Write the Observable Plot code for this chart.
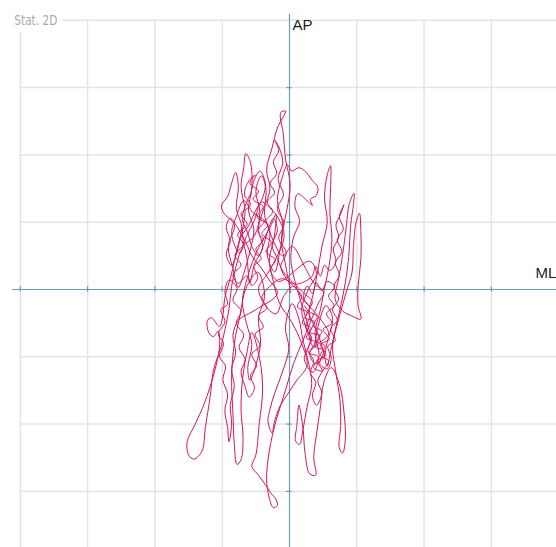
<!DOCTYPE html>
<html>
<head>
<meta charset="utf-8">
<script src="https://cdn.jsdelivr.net/npm/d3@7"></script>
<script src="https://cdn.jsdelivr.net/npm/@observablehq/plot@0.6"></script>
<style>
  html, body { margin: 0; padding: 0; background: #fff; }
  svg { display: block; }
</style>
</head>
<body>
<div id="chart"></div>
<script>
// Grid / tick values (mm)
const gridX = [-40, -30, -20, -10, 10, 20, 30];
const gridY = [40, 30, 20, 10, -10, -20, -30];
const tickValsX = [-40, -30, -20, -10, 10, 20, 30];
const tickValsY = [30, 20, 10, -10, -20, -30];
const chartTitle = "Stat. 2D";
const labelAP = "AP";
const labelML = "ML";

// Centre-of-pressure sway path [ML mm, AP mm]
const swayPath = [
  [0.2,-0.5],[-0.5,3.2],[-1.2,7.5],[-0.4,11.8],[0.1,15.6],[-0.6,19.4],[-0.9,23.0],[-1.3,26.3],[-0.6,26.5],[-1.8,24.0],[-2.6,21.0],[-3.4,17.8],[-2.9,14.9],[-3.8,12.1],[-4.6,9.0],[-4.0,6.2],[-5.2,3.8],[-5.9,1.0],
  [-6.3,4.5],[-7.0,8.2],[-6.6,11.6],[-7.2,15.3],[-6.8,18.1],[-6.5,20.2],[-5.8,18.9],[-5.6,15.0],[-6.1,11.8],[-5.3,8.9],[-5.9,5.6],[-6.8,2.4],[-7.6,0.3],
  [-8.4,3.1],[-9.1,6.4],[-8.2,9.6],[-9.8,11.4],[-10.1,12.5],[-9.2,13.8],[-8.6,15.8],[-8.0,17.4],[-7.6,15.2],[-7.9,12.0],[-7.1,9.3],[-7.8,6.0],[-8.7,2.0],[-9.6,-1.2],[-9.9,-3.8],
  [-10.4,-5.5],[-11.6,-4.2],[-12.2,-4.6],[-12.0,-6.4],[-11.3,-7.0],[-10.6,-6.2],[-10.4,-8.5],[-11.2,-12.4],[-12.6,-16.8],[-14.0,-20.0],[-15.2,-22.6],[-15.0,-24.6],[-14.2,-25.2],[-13.0,-24.0],[-12.5,-20.5],[-11.8,-16.0],[-11.3,-12.0],[-10.2,-8.6],[-9.6,-6.0],[-9.0,-3.0],[-8.6,0.5],
  [-7.9,3.6],[-6.9,6.4],[-5.2,8.0],[-4.4,11.5],[-5.0,14.6],[-4.2,16.9],[-3.5,15.1],[-3.7,11.0],[-2.9,8.3],[-3.3,5.1],[-2.2,2.6],[-1.5,5.4],[-1.0,9.7],[-1.8,13.2],[-1.1,16.6],[-0.3,18.5],[0.3,17.6],
  [1.4,18.1],[2.5,17.4],[3.3,16.3],[4.2,15.2],[4.0,14.0],[3.1,13.4],[3.4,12.5],[2.2,13.6],[1.2,14.2],[0.8,12.4],[1.5,10.1],[0.6,7.8],[0.2,4.6],[0.7,1.6],[1.6,-1.5],
  [2.4,-4.2],[3.1,-7.6],[2.2,-10.4],[3.5,-12.3],[4.4,-9.8],[3.8,-6.4],[4.6,-3.0],[5.2,0.2],[5.9,3.6],[6.3,7.5],[6.0,11.4],[6.1,15.1],[6.1,18.4],[5.6,17.0],[5.2,13.6],[5.6,10.0],[4.8,6.3],[4.2,2.8],[3.5,-0.8],[2.9,-3.5],[3.9,-5.8],[4.9,-8.6],[5.6,-11.4],[6.1,-9.2],[6.8,-6.0],[7.6,-2.5],[8.3,1.0],[8.8,4.9],[9.1,9.6],[9.5,12.6],[9.6,14.3],[8.9,12.8],[8.4,9.0],[7.9,5.2],[7.3,1.6],[6.8,-1.5],
  [7.9,-3.2],[9.2,-3.9],[10.6,-4.4],[10.2,-2.4],[10.2,0.6],[10.6,4.4],[10.6,8.6],[10.4,11.3],[9.9,10.0],[9.5,6.4],[9.3,2.6],[8.4,-0.5],[7.2,-4.8],[6.4,-8.4],[6.9,-12.4],[7.5,-16.5],[7.6,-20.2],[7.4,-23.5],[7.9,-24.3],[8.3,-22.2],[8.1,-18.3],[7.5,-14.4],[6.2,-11.6],[5.1,-13.8],[4.6,-17.4],[4.0,-21.6],[3.6,-25.0],[3.9,-27.6],[3.0,-27.4],[2.3,-24.2],[2.0,-20.6],[1.4,-17.2],[1.1,-20.2],[0.9,-22.5],[1.5,-23.0],[2.0,-20.8],[2.6,-17.5],[3.3,-14.0],[2.8,-10.8],[2.0,-7.5],[1.4,-4.4],
  [0.4,-2.1],[-0.6,-5.6],[-0.1,-8.8],[-1.1,-12.4],[-2.2,-15.4],[-2.9,-17.8],[-3.2,-19.6],[-2.6,-21.3],[-2.2,-19.5],[-1.4,-17.3],[-0.3,-15.6],[1.0,-13.6],[2.6,-11.3],[1.8,-8.0],
  [0.3,-4.8],[-1.5,-2.0],[-2.4,1.2],[-3.0,4.3],[-2.3,7.6],[-2.0,11.2],[-3.0,9.0],[-4.4,6.6],[-5.5,4.1],[-6.3,1.6],[-7.0,-1.8],[-6.4,-5.0],[-5.6,-8.2],[-6.2,-11.6],[-5.9,-13.5],[-5.0,-11.2],[-4.3,-8.0],[-4.6,-4.1],[-3.7,-1.0],[-4.7,2.6],
  [-6.5,0.1],[-7.3,-3.6],[-8.2,-8.0],[-8.6,-13.0],[-8.4,-18.5],[-8.2,-23.0],[-7.8,-26.0],[-7.2,-25.3],[-6.9,-22.0],[-7.2,-18.0],[-7.0,-13.5],[-6.3,-9.2],
  [-5.6,-6.4],[-4.4,-10.5],[-4.0,-15.0],[-4.5,-20.0],[-5.0,-24.6],[-5.6,-26.3],[-4.6,-27.6],[-3.6,-29.0],[-2.8,-30.2],[-2.0,-31.2],[-1.8,-32.1],[-2.4,-32.4],[-3.0,-31.0],[-3.4,-28.2],[-3.0,-24.0],[-2.0,-19.5],[-0.6,-15.0],[0.6,-11.0],[2.0,-7.6],[3.2,-4.6],[4.3,-2.0],[5.1,-0.4],
  [3.6,1.0],[2.2,3.5],[0.4,6.4],[-1.0,5.0],[-2.4,7.2],[-3.6,10.1],[-5.4,11.4],[-6.8,13.2],[-7.8,11.1],[-8.6,8.3],[-7.4,5.4],[-6.4,7.9],[-5.2,10.3],[-4.2,13.0],[-3.0,12.2],[-1.6,10.5],[-0.8,8.0],[-1.9,4.8],[-3.3,2.3],[-4.6,0.2],[-3.5,-2.5],[-2.0,-3.6],[-0.8,-0.9],[0.6,0.5],[2.0,-1.5],[3.4,-3.0],[4.9,-4.8],[5.8,-6.6],[4.4,-8.0],[3.0,-9.4],[3.8,-11.0],[5.0,-10.2],[5.6,-7.8],[6.4,-4.2],[5.4,-2.4],[4.2,-5.6],[3.6,-8.6],[2.6,-6.0],[1.8,-3.0],[2.8,0.0],[4.0,2.4],[3.0,4.2],
  [-1.6,1.2],[-2.8,3.0],[-2.1,4.4],[-3.5,5.6],[-2.7,7.0],[-4.1,8.3],[-3.2,9.6],[-4.8,10.8],[-3.9,12.3],[-5.4,13.4],[-4.6,14.6],[-5.9,15.8],[-5.1,17.0],[-6.0,16.2],[-6.7,14.1],[-5.8,12.6],[-7.2,11.2],[-6.3,9.7],[-7.7,8.2],[-6.9,6.7],[-8.1,5.1],[-7.2,3.6],[-8.4,2.2],[-7.6,0.9],[-6.4,2.0],[-5.6,0.6],[-4.7,1.8],[-5.3,3.4],[-4.2,4.6],[-5.0,6.0],[-3.9,7.4],[-4.7,8.6],[-3.6,10.2],[-2.5,11.6],[-3.3,13.0],[-2.2,14.4],[-2.9,15.8],[-1.9,17.2],[-2.4,19.0],[-1.6,20.6],[-2.2,22.2],[-1.5,21.0],[-1.0,18.8],[-1.7,16.4],[-0.9,14.1],[-1.8,12.0],[-0.8,9.8],[-1.6,7.6],[-0.5,5.5],[-1.3,3.4],[-0.4,1.5],
  [0.9,0.2],[1.8,-1.0],[1.2,-2.6],[2.6,-3.4],[1.9,-5.0],[3.2,-5.7],[2.5,-7.2],[3.8,-7.8],[3.0,-9.4],[4.3,-10.0],[3.6,-11.6],[4.9,-12.1],[4.2,-10.6],[5.4,-9.7],[4.6,-8.2],[5.9,-7.4],[5.0,-5.9],[6.3,-5.0],[5.5,-3.6],[6.6,-2.4],[5.8,-1.0],[6.7,0.4],[5.6,1.2],[4.8,-0.2],[4.0,1.0],[3.4,-0.6],[2.6,0.5],[2.1,-1.4],[3.0,-2.6],[2.4,-4.2],[3.7,-4.8],[3.1,-6.4],[4.5,-6.8],[3.9,-8.6],[5.1,-9.0],[4.5,-11.0],[5.6,-11.8],[6.2,-10.2],[5.7,-8.4],[6.8,-7.6],[6.1,-5.8],[7.1,-4.6],[6.4,-3.0],[7.3,-1.4],[6.6,0.4],[7.4,2.2],[6.8,4.0],[7.8,5.6],[7.1,7.4],[8.0,9.0],[7.4,10.8],[8.1,12.6],[7.6,11.2],[6.9,9.6],[7.3,7.8],[6.5,6.0],[6.9,4.2],[6.0,2.8],[5.2,3.6],[4.6,2.0],[3.9,3.4],[3.3,1.9],
  [1.0,0.8],[-1.2,1.6],
  [-3.0,0.4],[-4.1,-1.2],[-3.4,-2.8],[-4.6,-3.9],[-3.9,-5.6],[-5.1,-6.6],[-4.4,-8.4],[-5.6,-9.6],[-4.9,-11.4],[-5.8,-12.8],[-5.2,-14.6],[-6.0,-16.0],[-6.6,-14.4],[-7.2,-12.2],[-6.6,-10.4],[-7.5,-8.6],[-6.8,-6.8],[-7.9,-5.0],[-7.2,-3.2],[-8.4,-1.6],[-7.8,0.2],[-9.0,1.4],[-9.6,-0.4],[-9.2,-2.2],[-10.2,-3.0],[-9.6,-4.8],[-10.6,-6.6],[-9.8,-8.0],[-10.4,-10.0],[-9.5,-11.4],[-9.9,-13.4],[-9.2,-15.6],[-9.6,-18.0],[-9.2,-20.5],[-9.0,-22.6],[-8.6,-20.0],[-8.8,-17.2],[-8.2,-14.4],[-8.6,-11.8],[-8.0,-9.4],[-8.4,-6.8],[-7.6,-4.6],
  [-5.0,-3.0],
  [-1.8,-0.6],[-3.0,1.4],[-4.2,3.2],[-5.6,5.0],[-6.4,6.8],[-7.6,9.0],[-8.8,10.6],[-9.4,9.2],[-8.8,7.2],[-9.4,5.2],[-8.6,3.6],[-7.8,5.6],[-7.2,7.8],[-6.0,9.6],[-5.0,11.8],[-4.0,13.6],[-3.6,15.8],[-4.4,17.6],[-5.2,16.4],[-5.8,14.2],[-6.6,12.4],[-7.0,10.4],[-6.2,8.4],[-5.6,6.4],[-4.6,5.0],[-3.8,6.8],[-3.2,8.8],[-2.4,10.6],[-1.8,8.8],[-2.6,6.6],[-1.8,4.6],[-0.9,2.6],
  [2.2,-0.6],[3.4,-1.8],[2.9,-3.2],[4.1,-4.0],[3.5,-5.4],[4.8,-6.2],[4.1,-7.6],[5.3,-8.4],[4.6,-9.8],[5.8,-10.6],[5.0,-12.0],[4.2,-13.6],[4.8,-15.4],[4.0,-17.2],[3.4,-15.8],[3.9,-13.8],[3.1,-12.4],[3.6,-10.6],[2.7,-9.0],[3.3,-7.2],[2.4,-5.6],[3.0,-4.0],[2.2,-2.4]
];

const W = 556, H = 547;
const pxPerMm = 6.73;
const x0 = -289 / pxPerMm, x1 = (W - 289) / pxPerMm;
const y1 = 289 / pxPerMm, y0 = -(H - 289) / pxPerMm;

const path = swayPath.map(([ml, ap]) => ({ml, ap}));
const gridColor = "#e4e4e4";
const axisColor = "#6e9db3";

const chart = Plot.plot({
  width: W,
  height: H,
  margin: 0,
  x: {domain: [x0, x1], axis: null},
  y: {domain: [y0, y1], axis: null},
  style: {background: "#fff"},
  marks: [
    // grid
    Plot.ruleX(gridX.filter(d => d !== -40), {x: d => d, y1: y0, y2: 40, stroke: gridColor, strokeWidth: 1.5}),
    Plot.ruleX([-40], {x: d => d, y1: y0, y2: 38.2, stroke: gridColor, strokeWidth: 1.5}),
    Plot.ruleY(gridY.filter(d => d !== 40), {y: d => d, x1: -40, x2: x1, stroke: gridColor, strokeWidth: 1.5}),
    Plot.ruleY([40], {y: d => d, x1: -33.7, x2: x1, stroke: gridColor, strokeWidth: 1.5}),
    // axes
    Plot.ruleX([0], {y1: y0, y2: 40.9, stroke: axisColor, strokeWidth: 1.2}),
    Plot.ruleY([0], {x1: -41.1, x2: x1, stroke: axisColor, strokeWidth: 1.2}),
    Plot.ruleX(tickValsX, {x: d => d, y1: -0.4, y2: 0.4, stroke: axisColor, strokeWidth: 1.2}),
    Plot.ruleY(tickValsY, {y: d => d, x1: -0.4, x2: 0.4, stroke: axisColor, strokeWidth: 1.2}),
    // sway trace
    Plot.line(path, {x: "ml", y: "ap", stroke: "#d4145e", strokeWidth: 1, curve: "catmull-rom"}),
    // labels
    Plot.text([chartTitle], {x: -40, y: 40, text: d => d, dx: -6, dy: 0, textAnchor: "start", lineAnchor: "middle",
      fill: "#a8a8a8", fontSize: 14, fontFamily: "'DejaVu Sans Condensed', 'Liberation Sans Narrow', sans-serif", className: "title-label"}),
    Plot.text([labelAP], {x: 0, y: 40, text: d => d, dx: 3, dy: 5, textAnchor: "start", lineAnchor: "middle",
      fill: "#1a1a1a", fontSize: 15, fontFamily: "'Liberation Sans', Arial, sans-serif"}),
    Plot.text([labelML], {x: x1, y: 0, text: d => d, dx: -21, dy: -16, textAnchor: "start", lineAnchor: "middle",
      fill: "#1a1a1a", fontSize: 15, fontFamily: "'Liberation Sans', Arial, sans-serif"})
  ]
});
d3.select(chart).selectAll(".title-label text").style("font-stretch", "condensed").attr("textLength", 43).attr("lengthAdjust", "spacingAndGlyphs");
document.getElementById("chart").appendChild(chart);
</script>
</body>
</html>
